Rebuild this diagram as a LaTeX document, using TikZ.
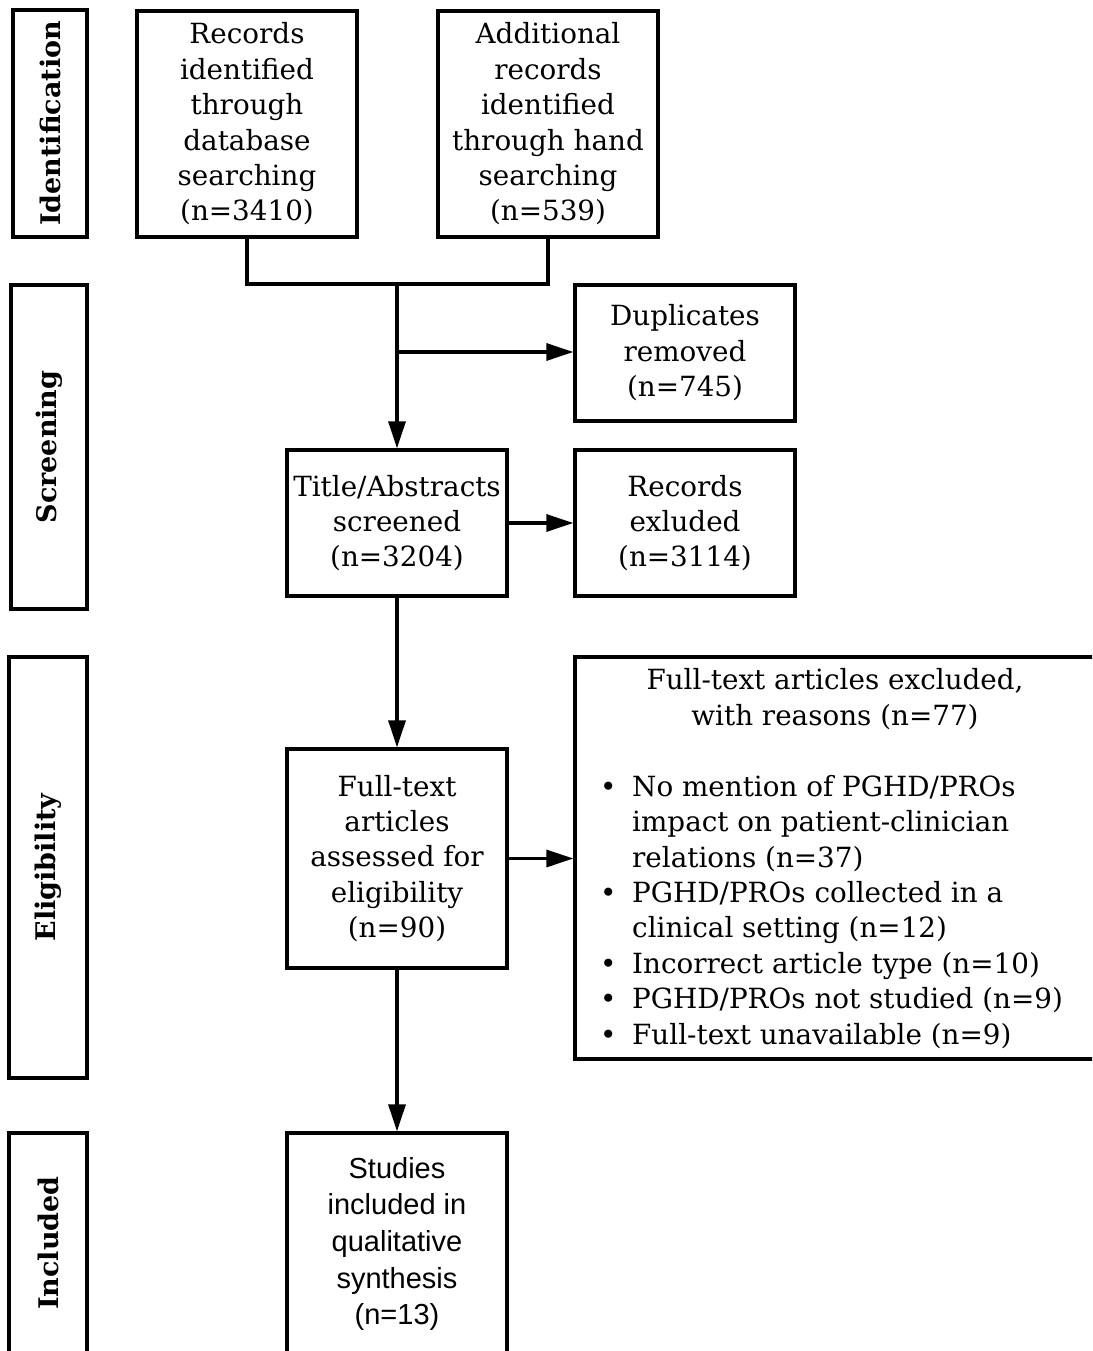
\documentclass[tikz,border=0pt]{standalone}
\usepackage{fontspec}
\setmainfont{DejaVu Serif}
\newfontfamily\sansf{Liberation Sans}
\usetikzlibrary{arrows.meta}
\begin{document}
\begin{tikzpicture}[x=1pt,y=-1pt,
  mainfont/.style={font=\fontsize{27.8}{35.4}\selectfont},
  box/.style={draw, line width=3.3pt, inner sep=0pt, align=center, minimum width=220pt, mainfont},
  phase/.style={draw, line width=3.3pt, inner sep=0pt, rotate=90, font=\bfseries\fontsize{27}{30}\selectfont},
  arr/.style={line width=3.3pt, -{Triangle[length=27pt,width=17pt]}},
  conn/.style={line width=3.3pt}]
\path[use as bounding box] (0,0) rectangle (1092,1351);
\clip (0,0) rectangle (1092,1351);

% phase labels
\node[phase, minimum width=227pt, minimum height=74pt] (pid) at (50,123.5) {Identification};
\node[phase, minimum width=324pt, minimum height=76pt] (psc) at (49,447) {Screening};
\node[phase, minimum width=421pt, minimum height=78pt] (pel) at (48,867.5) {Eligibility};
\node[phase, minimum width=220pt, minimum height=78pt] (pin) at (48,1243) {Included};

% main boxes
\node[box, minimum height=226pt] (db) at (247,124) {Records\\identified\\through\\database\\searching\\(n=3410)};
\node[box, minimum height=226pt] (add) at (548,124) {Additional\\records\\identified\\through hand\\searching\\(n=539)};
\coordinate (join) at (397,284);
\coordinate (br) at (397,352);
\node[box, minimum height=136pt] (dup) at (685,353) {Duplicates\\removed\\(n=745)};
\node[box, minimum height=146pt] (title) at (397,523) {Title/Abstracts\\screened\\(n=3204)};
\node[box, minimum height=146pt] (rex) at (685,523) {Records\\exluded\\(n=3114)};
\node[box, minimum height=219pt] (ft) at (397,858.5) {Full-text\\articles\\assessed for\\eligibility\\(n=90)};
\node[draw, line width=3.3pt, inner sep=0pt, minimum width=535pt, minimum height=402pt] (excl) at (842.5,858) {};
\node[mainfont, align=center, anchor=base, inner sep=0pt] (exclhead) at (835,725) {Full-text articles excluded,\\with reasons (n=77)};
\node[mainfont, align=left, anchor=base west, inner sep=0pt] (excllist) at (600,1044) {%
\makebox[32pt][l]{•}No mention of PGHD/PROs\\
\hspace*{32pt}impact on patient-clinician\\
\hspace*{32pt}relations (n=37)\\
\makebox[32pt][l]{•}PGHD/PROs collected in a\\
\hspace*{32pt}clinical setting (n=12)\\
\makebox[32pt][l]{•}Incorrect article type (n=10)\\
\makebox[32pt][l]{•}PGHD/PROs not studied (n=9)\\
\makebox[32pt][l]{•}Full-text unavailable (n=9)};
\node[box, minimum height=222pt, font=\sansf\fontsize{29}{36.6}\selectfont] (studies) at (397,1244) {Studies\\included in\\qualitative\\synthesis\\(n=13)};

% connectors
\draw[conn] (db.south) |- (join) -| (add.south);
\draw[arr] (join) -- (title.north);
\draw[arr] (br) -- (br -| dup.west);
\draw[arr] (title.east) -- (rex.west);
\draw[arr] (title.south) -- (ft.north);
\draw[arr] (ft.east) -- (ft.east -| excl.west);
\draw[arr] (ft.south) -- (studies.north);
\end{tikzpicture}
\end{document}
